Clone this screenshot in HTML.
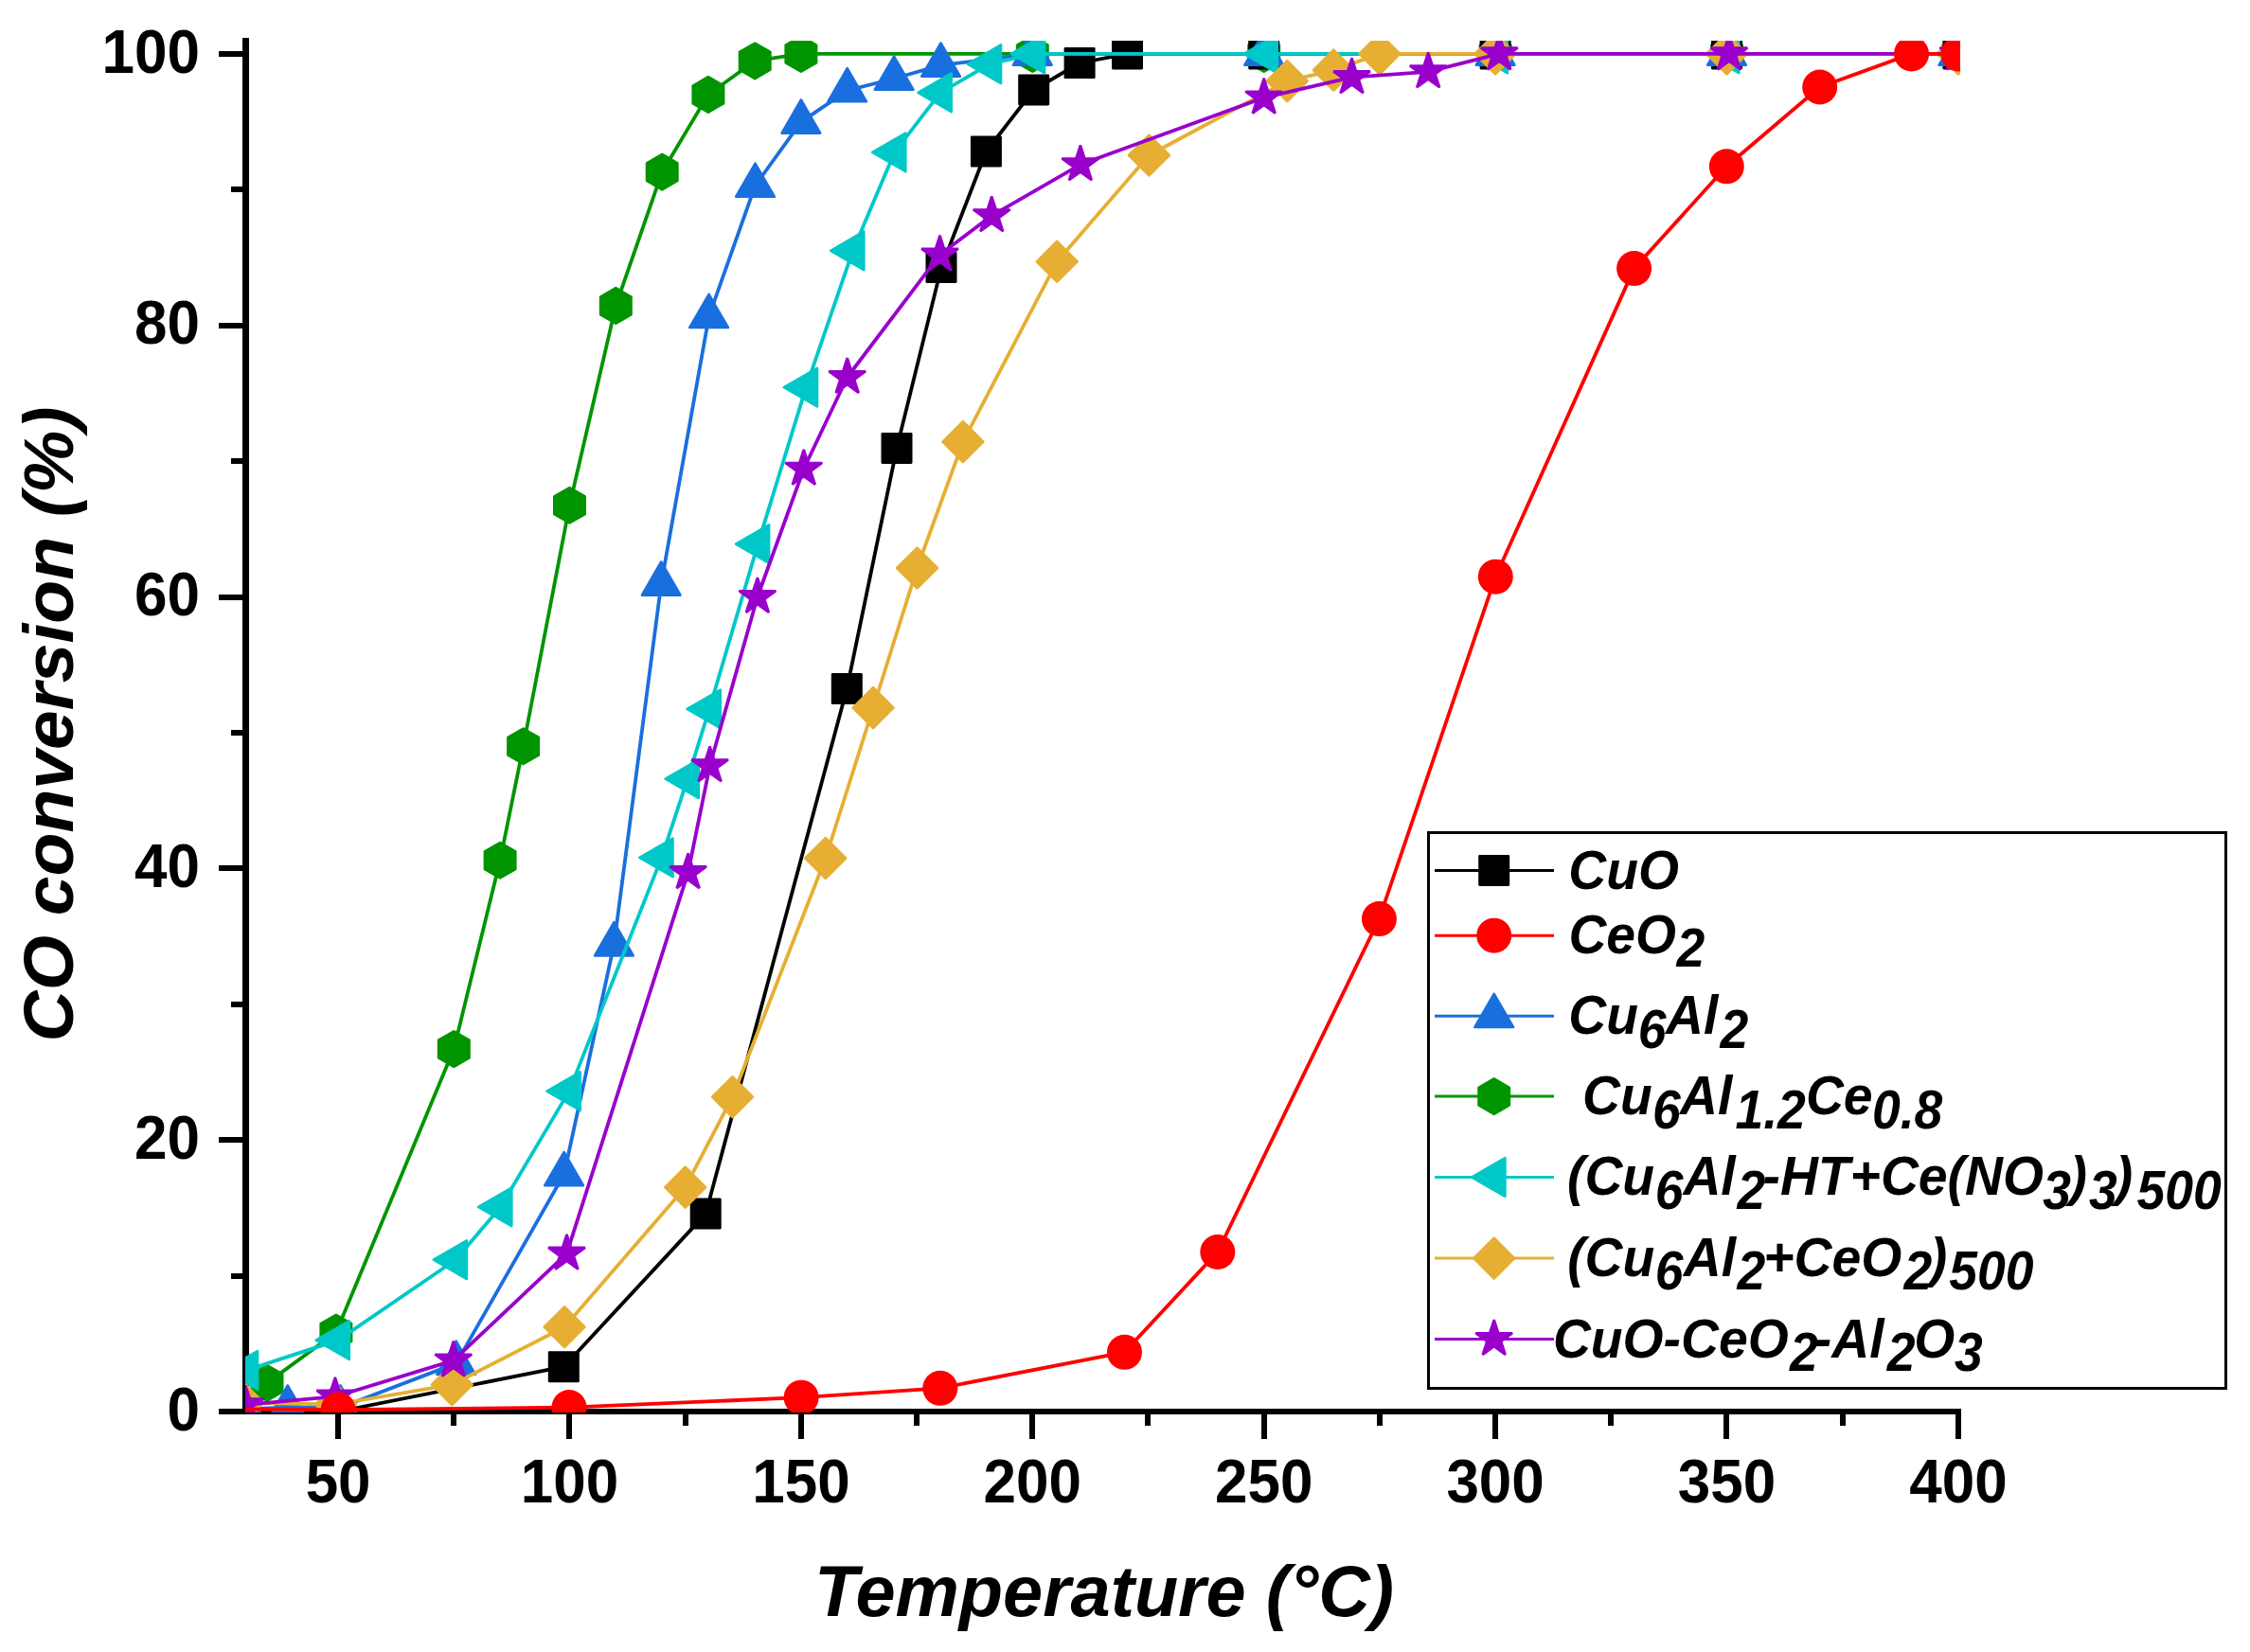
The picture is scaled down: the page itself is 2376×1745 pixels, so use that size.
<!DOCTYPE html><html><head><meta charset="utf-8"><title>CO conversion</title><style>html,body{margin:0;padding:0;background:#fff}svg{display:block}text{font-family:"Liberation Sans",Arial,Helvetica,sans-serif;font-weight:bold;fill:#000}.i{font-style:italic}</style></head><body>
<svg width="2376" height="1745" viewBox="0 0 2376 1745">
<rect width="2376" height="1745" fill="#fff"/>
<g fill="#000" shape-rendering="crispEdges">
<rect x="256" y="40" width="7" height="1454"/>
<rect x="231" y="1488" width="1840" height="6"/>
<rect x="244" y="1345" width="13" height="6"/>
<rect x="231" y="1201" width="26" height="6"/>
<rect x="244" y="1058" width="13" height="6"/>
<rect x="231" y="914" width="26" height="6"/>
<rect x="244" y="771" width="13" height="6"/>
<rect x="231" y="628" width="26" height="6"/>
<rect x="244" y="484" width="13" height="6"/>
<rect x="231" y="341" width="26" height="6"/>
<rect x="244" y="197" width="13" height="6"/>
<rect x="231" y="54" width="26" height="6"/>
<rect x="354" y="1493" width="6" height="27"/>
<rect x="476" y="1493" width="6" height="13"/>
<rect x="598" y="1493" width="6" height="27"/>
<rect x="721" y="1493" width="6" height="13"/>
<rect x="843" y="1493" width="6" height="27"/>
<rect x="965" y="1493" width="6" height="13"/>
<rect x="1087" y="1493" width="6" height="27"/>
<rect x="1209" y="1493" width="6" height="13"/>
<rect x="1332" y="1493" width="6" height="27"/>
<rect x="1454" y="1493" width="6" height="13"/>
<rect x="1576" y="1493" width="6" height="27"/>
<rect x="1698" y="1493" width="6" height="13"/>
<rect x="1820" y="1493" width="6" height="27"/>
<rect x="1943" y="1493" width="6" height="13"/>
<rect x="2065" y="1493" width="6" height="27"/>
</g>
<text font-size="62" text-anchor="end" transform="translate(211.0,1510.6) scale(1,1.04)">0</text>
<text font-size="62" text-anchor="end" transform="translate(211.0,1223.8) scale(1,1.04)">20</text>
<text font-size="62" text-anchor="end" transform="translate(211.0,937.0) scale(1,1.04)">40</text>
<text font-size="62" text-anchor="end" transform="translate(211.0,650.1) scale(1,1.04)">60</text>
<text font-size="62" text-anchor="end" transform="translate(211.0,363.3) scale(1,1.04)">80</text>
<text font-size="62" text-anchor="end" transform="translate(211.0,76.5) scale(1,1.04)">100</text>
<text font-size="62" text-anchor="middle" transform="translate(357.1,1587.0) scale(1,1.035)">50</text>
<text font-size="62" text-anchor="middle" transform="translate(601.5,1587.0) scale(1,1.035)">100</text>
<text font-size="62" text-anchor="middle" transform="translate(845.9,1587.0) scale(1,1.035)">150</text>
<text font-size="62" text-anchor="middle" transform="translate(1090.3,1587.0) scale(1,1.035)">200</text>
<text font-size="62" text-anchor="middle" transform="translate(1334.7,1587.0) scale(1,1.035)">250</text>
<text font-size="62" text-anchor="middle" transform="translate(1579.1,1587.0) scale(1,1.035)">300</text>
<text font-size="62" text-anchor="middle" transform="translate(1823.5,1587.0) scale(1,1.035)">350</text>
<text font-size="62" text-anchor="middle" transform="translate(2067.9,1587.0) scale(1,1.035)">400</text>
<text class="i" font-size="75.7" text-anchor="middle" transform="translate(1166.0,1707.0) scale(1,1.0)">Temperature (°C)</text>
<text class="i" font-size="75" text-anchor="middle" transform="translate(76.7,765.0) rotate(-90) scale(1,1.0)">CO conversion (%)</text>
<defs><clipPath id="c"><rect x="259" y="43" width="1811" height="1449"/></clipPath></defs>
<g clip-path="url(#c)">
<polyline points="282.0,1460.9 354.9,1407.5 479.3,1108.1 528.1,908.8 552.6,788.3 601.5,533.7 650.3,322.9 699.2,181.7 747.9,99.9 797.2,64.4 845.9,56.9 1090.3,56.9 1334.7,56.9 1579.1,56.9 1823.5,56.9 2067.9,56.9" fill="none" stroke="#009500" stroke-width="3.8" stroke-linejoin="round"/>
<polygon points="282.0,1442.2 298.2,1451.5 298.2,1470.2 282.0,1479.6 265.8,1470.2 265.8,1451.5" fill="#009500" stroke="#009500" stroke-width="2.6" stroke-linejoin="round"/>
<polygon points="354.9,1388.8 371.1,1398.2 371.1,1416.9 354.9,1426.2 338.7,1416.9 338.7,1398.2" fill="#009500" stroke="#009500" stroke-width="2.6" stroke-linejoin="round"/>
<polygon points="479.3,1089.4 495.5,1098.7 495.5,1117.4 479.3,1126.8 463.1,1117.4 463.1,1098.7" fill="#009500" stroke="#009500" stroke-width="2.6" stroke-linejoin="round"/>
<polygon points="528.1,890.1 544.3,899.4 544.3,918.1 528.1,927.5 511.9,918.1 511.9,899.4" fill="#009500" stroke="#009500" stroke-width="2.6" stroke-linejoin="round"/>
<polygon points="552.6,769.6 568.8,778.9 568.8,797.6 552.6,807.0 536.4,797.6 536.4,778.9" fill="#009500" stroke="#009500" stroke-width="2.6" stroke-linejoin="round"/>
<polygon points="601.5,515.0 617.7,524.4 617.7,543.1 601.5,552.4 585.3,543.1 585.3,524.4" fill="#009500" stroke="#009500" stroke-width="2.6" stroke-linejoin="round"/>
<polygon points="650.3,304.2 666.5,313.6 666.5,332.3 650.3,341.6 634.1,332.3 634.1,313.6" fill="#009500" stroke="#009500" stroke-width="2.6" stroke-linejoin="round"/>
<polygon points="699.2,163.0 715.4,172.3 715.4,191.0 699.2,200.4 683.0,191.0 683.0,172.3" fill="#009500" stroke="#009500" stroke-width="2.6" stroke-linejoin="round"/>
<polygon points="747.9,81.2 764.1,90.6 764.1,109.3 747.9,118.6 731.7,109.3 731.7,90.6" fill="#009500" stroke="#009500" stroke-width="2.6" stroke-linejoin="round"/>
<polygon points="797.2,45.7 813.4,55.0 813.4,73.7 797.2,83.1 781.0,73.7 781.0,55.0" fill="#009500" stroke="#009500" stroke-width="2.6" stroke-linejoin="round"/>
<polygon points="845.9,38.2 862.1,47.6 862.1,66.3 845.9,75.6 829.7,66.3 829.7,47.6" fill="#009500" stroke="#009500" stroke-width="2.6" stroke-linejoin="round"/>
<polygon points="1090.3,38.2 1106.5,47.6 1106.5,66.3 1090.3,75.6 1074.1,66.3 1074.1,47.6" fill="#009500" stroke="#009500" stroke-width="2.6" stroke-linejoin="round"/>
<polygon points="1334.7,38.2 1350.9,47.6 1350.9,66.3 1334.7,75.6 1318.5,66.3 1318.5,47.6" fill="#009500" stroke="#009500" stroke-width="2.6" stroke-linejoin="round"/>
<polygon points="1579.1,38.2 1595.3,47.6 1595.3,66.3 1579.1,75.6 1562.9,66.3 1562.9,47.6" fill="#009500" stroke="#009500" stroke-width="2.6" stroke-linejoin="round"/>
<polygon points="1823.5,38.2 1839.7,47.6 1839.7,66.3 1823.5,75.6 1807.3,66.3 1807.3,47.6" fill="#009500" stroke="#009500" stroke-width="2.6" stroke-linejoin="round"/>
<polygon points="2067.9,38.2 2084.1,47.6 2084.1,66.3 2067.9,75.6 2051.7,66.3 2051.7,47.6" fill="#009500" stroke="#009500" stroke-width="2.6" stroke-linejoin="round"/>
<polyline points="357.1,1491.0 595.3,1443.7 745.2,1282.1 894.3,727.6 947.0,473.4 994.0,282.6 1041.4,160.0 1091.7,94.9 1140.1,66.5 1190.5,56.9 1334.7,56.9 1579.1,56.9 1823.5,56.9 2067.9,56.9" fill="none" stroke="#000000" stroke-width="3.8" stroke-linejoin="round"/>
<rect x="580.1" y="1428.5" width="30.4" height="30.4" fill="#000000" stroke="#000000" stroke-width="2.6" stroke-linejoin="round"/>
<rect x="730.0" y="1266.9" width="30.4" height="30.4" fill="#000000" stroke="#000000" stroke-width="2.6" stroke-linejoin="round"/>
<rect x="879.1" y="712.4" width="30.4" height="30.4" fill="#000000" stroke="#000000" stroke-width="2.6" stroke-linejoin="round"/>
<rect x="931.8" y="458.2" width="30.4" height="30.4" fill="#000000" stroke="#000000" stroke-width="2.6" stroke-linejoin="round"/>
<rect x="978.8" y="267.4" width="30.4" height="30.4" fill="#000000" stroke="#000000" stroke-width="2.6" stroke-linejoin="round"/>
<rect x="1026.2" y="144.8" width="30.4" height="30.4" fill="#000000" stroke="#000000" stroke-width="2.6" stroke-linejoin="round"/>
<rect x="1076.5" y="79.7" width="30.4" height="30.4" fill="#000000" stroke="#000000" stroke-width="2.6" stroke-linejoin="round"/>
<rect x="1124.9" y="51.3" width="30.4" height="30.4" fill="#000000" stroke="#000000" stroke-width="2.6" stroke-linejoin="round"/>
<rect x="1175.3" y="41.7" width="30.4" height="30.4" fill="#000000" stroke="#000000" stroke-width="2.6" stroke-linejoin="round"/>
<rect x="1319.5" y="41.7" width="30.4" height="30.4" fill="#000000" stroke="#000000" stroke-width="2.6" stroke-linejoin="round"/>
<rect x="1563.9" y="41.7" width="30.4" height="30.4" fill="#000000" stroke="#000000" stroke-width="2.6" stroke-linejoin="round"/>
<rect x="1808.3" y="41.7" width="30.4" height="30.4" fill="#000000" stroke="#000000" stroke-width="2.6" stroke-linejoin="round"/>
<rect x="2052.7" y="41.7" width="30.4" height="30.4" fill="#000000" stroke="#000000" stroke-width="2.6" stroke-linejoin="round"/>
<polyline points="259.3,1488.1 303.8,1487.0 359.5,1486.7 481.7,1440.1 595.6,1240.5 648.4,997.7 698.2,616.9 748.6,334.3 797.5,196.0 845.9,128.9 894.7,95.6 944.1,83.0 993.5,68.9 1090.3,56.9 1334.7,56.9 1579.1,56.9 1823.5,56.9 2067.9,56.9" fill="none" stroke="#1A6FDF" stroke-width="3.8" stroke-linejoin="round"/>
<polygon points="259.3,1464.7 239.0,1499.9 279.6,1499.9" fill="#1A6FDF" stroke="#1A6FDF" stroke-width="2.6" stroke-linejoin="round"/>
<polygon points="303.8,1463.5 283.5,1498.7 324.1,1498.7" fill="#1A6FDF" stroke="#1A6FDF" stroke-width="2.6" stroke-linejoin="round"/>
<polygon points="359.5,1463.3 339.2,1498.4 379.8,1498.4" fill="#1A6FDF" stroke="#1A6FDF" stroke-width="2.6" stroke-linejoin="round"/>
<polygon points="481.7,1416.6 461.4,1451.8 502.0,1451.8" fill="#1A6FDF" stroke="#1A6FDF" stroke-width="2.6" stroke-linejoin="round"/>
<polygon points="595.6,1217.0 575.3,1252.2 615.9,1252.2" fill="#1A6FDF" stroke="#1A6FDF" stroke-width="2.6" stroke-linejoin="round"/>
<polygon points="648.4,974.2 628.1,1009.4 668.7,1009.4" fill="#1A6FDF" stroke="#1A6FDF" stroke-width="2.6" stroke-linejoin="round"/>
<polygon points="698.2,593.5 677.9,628.6 718.5,628.6" fill="#1A6FDF" stroke="#1A6FDF" stroke-width="2.6" stroke-linejoin="round"/>
<polygon points="748.6,310.8 728.3,346.0 768.9,346.0" fill="#1A6FDF" stroke="#1A6FDF" stroke-width="2.6" stroke-linejoin="round"/>
<polygon points="797.5,172.6 777.2,207.7 817.8,207.7" fill="#1A6FDF" stroke="#1A6FDF" stroke-width="2.6" stroke-linejoin="round"/>
<polygon points="845.9,105.5 825.6,140.6 866.2,140.6" fill="#1A6FDF" stroke="#1A6FDF" stroke-width="2.6" stroke-linejoin="round"/>
<polygon points="894.7,72.2 874.4,107.3 915.0,107.3" fill="#1A6FDF" stroke="#1A6FDF" stroke-width="2.6" stroke-linejoin="round"/>
<polygon points="944.1,59.6 923.8,94.7 964.4,94.7" fill="#1A6FDF" stroke="#1A6FDF" stroke-width="2.6" stroke-linejoin="round"/>
<polygon points="993.5,45.5 973.2,80.7 1013.8,80.7" fill="#1A6FDF" stroke="#1A6FDF" stroke-width="2.6" stroke-linejoin="round"/>
<polygon points="1090.3,33.5 1070.0,68.6 1110.6,68.6" fill="#1A6FDF" stroke="#1A6FDF" stroke-width="2.6" stroke-linejoin="round"/>
<polygon points="1334.7,33.5 1314.4,68.6 1355.0,68.6" fill="#1A6FDF" stroke="#1A6FDF" stroke-width="2.6" stroke-linejoin="round"/>
<polygon points="1579.1,33.5 1558.8,68.6 1599.4,68.6" fill="#1A6FDF" stroke="#1A6FDF" stroke-width="2.6" stroke-linejoin="round"/>
<polygon points="1823.5,33.5 1803.2,68.6 1843.8,68.6" fill="#1A6FDF" stroke="#1A6FDF" stroke-width="2.6" stroke-linejoin="round"/>
<polygon points="2067.9,33.5 2047.6,68.6 2088.2,68.6" fill="#1A6FDF" stroke="#1A6FDF" stroke-width="2.6" stroke-linejoin="round"/>
<polyline points="260.3,1447.4 357.1,1415.6 481.2,1330.7 528.6,1274.9 601.0,1152.6 698.7,905.9 726.1,822.7 749.1,748.9 800.4,574.6 851.2,409.1 900.6,264.8 944.6,160.9 993.0,97.8 1045.3,67.7 1091.2,56.9 1337.1,56.9 1580.0,56.9 1824.4,56.9 2067.9,56.9" fill="none" stroke="#00C8C8" stroke-width="3.8" stroke-linejoin="round"/>
<polygon points="236.8,1447.4 272.0,1427.1 272.0,1467.7" fill="#00C8C8" stroke="#00C8C8" stroke-width="2.6" stroke-linejoin="round"/>
<polygon points="333.6,1415.6 368.8,1395.3 368.8,1435.9" fill="#00C8C8" stroke="#00C8C8" stroke-width="2.6" stroke-linejoin="round"/>
<polygon points="457.8,1330.7 492.9,1310.4 492.9,1351.0" fill="#00C8C8" stroke="#00C8C8" stroke-width="2.6" stroke-linejoin="round"/>
<polygon points="505.2,1274.9 540.3,1254.6 540.3,1295.2" fill="#00C8C8" stroke="#00C8C8" stroke-width="2.6" stroke-linejoin="round"/>
<polygon points="577.5,1152.6 612.7,1132.3 612.7,1172.9" fill="#00C8C8" stroke="#00C8C8" stroke-width="2.6" stroke-linejoin="round"/>
<polygon points="675.3,905.9 710.5,885.6 710.5,926.2" fill="#00C8C8" stroke="#00C8C8" stroke-width="2.6" stroke-linejoin="round"/>
<polygon points="702.7,822.7 737.8,802.4 737.8,843.0" fill="#00C8C8" stroke="#00C8C8" stroke-width="2.6" stroke-linejoin="round"/>
<polygon points="725.6,748.9 760.8,728.6 760.8,769.2" fill="#00C8C8" stroke="#00C8C8" stroke-width="2.6" stroke-linejoin="round"/>
<polygon points="777.0,574.6 812.1,554.3 812.1,594.9" fill="#00C8C8" stroke="#00C8C8" stroke-width="2.6" stroke-linejoin="round"/>
<polygon points="827.8,409.1 863.0,388.8 863.0,429.4" fill="#00C8C8" stroke="#00C8C8" stroke-width="2.6" stroke-linejoin="round"/>
<polygon points="877.2,264.8 912.3,244.5 912.3,285.1" fill="#00C8C8" stroke="#00C8C8" stroke-width="2.6" stroke-linejoin="round"/>
<polygon points="921.2,160.9 956.3,140.6 956.3,181.2" fill="#00C8C8" stroke="#00C8C8" stroke-width="2.6" stroke-linejoin="round"/>
<polygon points="969.5,97.8 1004.7,77.5 1004.7,118.1" fill="#00C8C8" stroke="#00C8C8" stroke-width="2.6" stroke-linejoin="round"/>
<polygon points="1021.9,67.7 1057.0,47.4 1057.0,88.0" fill="#00C8C8" stroke="#00C8C8" stroke-width="2.6" stroke-linejoin="round"/>
<polygon points="1067.8,56.9 1103.0,36.6 1103.0,77.2" fill="#00C8C8" stroke="#00C8C8" stroke-width="2.6" stroke-linejoin="round"/>
<polygon points="1313.7,56.9 1348.8,36.6 1348.8,77.2" fill="#00C8C8" stroke="#00C8C8" stroke-width="2.6" stroke-linejoin="round"/>
<polygon points="1556.6,56.9 1591.8,36.6 1591.8,77.2" fill="#00C8C8" stroke="#00C8C8" stroke-width="2.6" stroke-linejoin="round"/>
<polygon points="1801.0,56.9 1836.2,36.6 1836.2,77.2" fill="#00C8C8" stroke="#00C8C8" stroke-width="2.6" stroke-linejoin="round"/>
<polygon points="2044.4,56.9 2079.6,36.6 2079.6,77.2" fill="#00C8C8" stroke="#00C8C8" stroke-width="2.6" stroke-linejoin="round"/>
<polyline points="256.9,1481.7 354.6,1483.5 477.3,1462.7 596.1,1401.7 723.7,1254.1 773.5,1158.7 871.8,906.5 922.1,747.6 968.5,600.0 1016.9,466.6 1116.2,276.3 1213.4,164.0 1359.3,85.6 1408.3,74.1 1456.9,56.9 1579.1,56.9 1823.5,56.9 2067.9,56.9" fill="none" stroke="#E6AF33" stroke-width="3.8" stroke-linejoin="round"/>
<polygon points="256.9,1460.3 278.3,1481.7 256.9,1503.1 235.5,1481.7" fill="#E6AF33" stroke="#E6AF33" stroke-width="2.6" stroke-linejoin="round"/>
<polygon points="354.6,1462.1 376.0,1483.5 354.6,1504.9 333.2,1483.5" fill="#E6AF33" stroke="#E6AF33" stroke-width="2.6" stroke-linejoin="round"/>
<polygon points="477.3,1441.3 498.7,1462.7 477.3,1484.1 455.9,1462.7" fill="#E6AF33" stroke="#E6AF33" stroke-width="2.6" stroke-linejoin="round"/>
<polygon points="596.1,1380.3 617.5,1401.7 596.1,1423.1 574.7,1401.7" fill="#E6AF33" stroke="#E6AF33" stroke-width="2.6" stroke-linejoin="round"/>
<polygon points="723.7,1232.7 745.1,1254.1 723.7,1275.5 702.3,1254.1" fill="#E6AF33" stroke="#E6AF33" stroke-width="2.6" stroke-linejoin="round"/>
<polygon points="773.5,1137.3 794.9,1158.7 773.5,1180.1 752.1,1158.7" fill="#E6AF33" stroke="#E6AF33" stroke-width="2.6" stroke-linejoin="round"/>
<polygon points="871.8,885.1 893.2,906.5 871.8,927.9 850.4,906.5" fill="#E6AF33" stroke="#E6AF33" stroke-width="2.6" stroke-linejoin="round"/>
<polygon points="922.1,726.2 943.5,747.6 922.1,769.0 900.7,747.6" fill="#E6AF33" stroke="#E6AF33" stroke-width="2.6" stroke-linejoin="round"/>
<polygon points="968.5,578.6 989.9,600.0 968.5,621.4 947.1,600.0" fill="#E6AF33" stroke="#E6AF33" stroke-width="2.6" stroke-linejoin="round"/>
<polygon points="1016.9,445.2 1038.3,466.6 1016.9,488.0 995.5,466.6" fill="#E6AF33" stroke="#E6AF33" stroke-width="2.6" stroke-linejoin="round"/>
<polygon points="1116.2,254.9 1137.6,276.3 1116.2,297.7 1094.8,276.3" fill="#E6AF33" stroke="#E6AF33" stroke-width="2.6" stroke-linejoin="round"/>
<polygon points="1213.4,142.6 1234.8,164.0 1213.4,185.4 1192.0,164.0" fill="#E6AF33" stroke="#E6AF33" stroke-width="2.6" stroke-linejoin="round"/>
<polygon points="1359.3,64.2 1380.7,85.6 1359.3,107.0 1337.9,85.6" fill="#E6AF33" stroke="#E6AF33" stroke-width="2.6" stroke-linejoin="round"/>
<polygon points="1408.3,52.7 1429.7,74.1 1408.3,95.5 1386.9,74.1" fill="#E6AF33" stroke="#E6AF33" stroke-width="2.6" stroke-linejoin="round"/>
<polygon points="1456.9,35.5 1478.3,56.9 1456.9,78.3 1435.5,56.9" fill="#E6AF33" stroke="#E6AF33" stroke-width="2.6" stroke-linejoin="round"/>
<polygon points="1579.1,35.5 1600.5,56.9 1579.1,78.3 1557.7,56.9" fill="#E6AF33" stroke="#E6AF33" stroke-width="2.6" stroke-linejoin="round"/>
<polygon points="1823.5,35.5 1844.9,56.9 1823.5,78.3 1802.1,56.9" fill="#E6AF33" stroke="#E6AF33" stroke-width="2.6" stroke-linejoin="round"/>
<polygon points="2067.9,35.5 2089.3,56.9 2067.9,78.3 2046.5,56.9" fill="#E6AF33" stroke="#E6AF33" stroke-width="2.6" stroke-linejoin="round"/>
<polyline points="259.3,1483.8 353.9,1475.2 478.8,1437.1 598.5,1324.2 726.6,921.7 749.6,808.8 799.9,630.5 848.8,495.3 894.7,398.5 992.5,269.1 1047.2,227.8 1140.9,173.8 1334.7,103.1 1427.5,81.7 1508.2,75.8 1583.2,56.9 1825.9,56.9 2067.9,56.9" fill="none" stroke="#9900CC" stroke-width="3.8" stroke-linejoin="round"/>
<polygon points="259.3,1463.4 263.9,1477.5 278.7,1477.5 266.7,1486.2 271.3,1500.3 259.3,1491.6 247.3,1500.3 251.9,1486.2 239.9,1477.5 254.7,1477.5" fill="#9900CC" stroke="#9900CC" stroke-width="2.6" stroke-linejoin="miter" stroke-miterlimit="3"/>
<polygon points="353.9,1454.8 358.5,1468.9 373.3,1468.9 361.3,1477.6 365.9,1491.7 353.9,1483.0 341.9,1491.7 346.5,1477.6 334.5,1468.9 349.3,1468.9" fill="#9900CC" stroke="#9900CC" stroke-width="2.6" stroke-linejoin="miter" stroke-miterlimit="3"/>
<polygon points="478.8,1416.7 483.4,1430.8 498.2,1430.8 486.2,1439.5 490.8,1453.6 478.8,1444.9 466.8,1453.6 471.4,1439.5 459.4,1430.8 474.2,1430.8" fill="#9900CC" stroke="#9900CC" stroke-width="2.6" stroke-linejoin="miter" stroke-miterlimit="3"/>
<polygon points="598.5,1303.8 603.1,1317.9 617.9,1317.9 605.9,1326.6 610.5,1340.7 598.5,1332.0 586.5,1340.7 591.1,1326.6 579.1,1317.9 593.9,1317.9" fill="#9900CC" stroke="#9900CC" stroke-width="2.6" stroke-linejoin="miter" stroke-miterlimit="3"/>
<polygon points="726.6,901.3 731.2,915.4 746.0,915.4 734.0,924.1 738.6,938.2 726.6,929.5 714.6,938.2 719.2,924.1 707.2,915.4 722.0,915.4" fill="#9900CC" stroke="#9900CC" stroke-width="2.6" stroke-linejoin="miter" stroke-miterlimit="3"/>
<polygon points="749.6,788.4 754.1,802.5 769.0,802.5 757.0,811.2 761.6,825.3 749.6,816.6 737.6,825.3 742.2,811.2 730.2,802.5 745.0,802.5" fill="#9900CC" stroke="#9900CC" stroke-width="2.6" stroke-linejoin="miter" stroke-miterlimit="3"/>
<polygon points="799.9,610.1 804.5,624.2 819.3,624.2 807.3,632.9 811.9,647.0 799.9,638.3 787.9,647.0 792.5,632.9 780.5,624.2 795.3,624.2" fill="#9900CC" stroke="#9900CC" stroke-width="2.6" stroke-linejoin="miter" stroke-miterlimit="3"/>
<polygon points="848.8,474.9 853.4,489.0 868.2,489.0 856.2,497.7 860.8,511.8 848.8,503.1 836.8,511.8 841.4,497.7 829.4,489.0 844.2,489.0" fill="#9900CC" stroke="#9900CC" stroke-width="2.6" stroke-linejoin="miter" stroke-miterlimit="3"/>
<polygon points="894.7,378.1 899.3,392.2 914.1,392.2 902.2,400.9 906.7,415.0 894.7,406.3 882.7,415.0 887.3,400.9 875.3,392.2 890.2,392.2" fill="#9900CC" stroke="#9900CC" stroke-width="2.6" stroke-linejoin="miter" stroke-miterlimit="3"/>
<polygon points="992.5,248.7 997.1,262.8 1011.9,262.8 999.9,271.6 1004.5,285.7 992.5,276.9 980.5,285.7 985.1,271.6 973.1,262.8 987.9,262.8" fill="#9900CC" stroke="#9900CC" stroke-width="2.6" stroke-linejoin="miter" stroke-miterlimit="3"/>
<polygon points="1047.2,207.4 1051.8,221.5 1066.6,221.5 1054.7,230.3 1059.2,244.3 1047.2,235.6 1035.3,244.3 1039.8,230.3 1027.8,221.5 1042.7,221.5" fill="#9900CC" stroke="#9900CC" stroke-width="2.6" stroke-linejoin="miter" stroke-miterlimit="3"/>
<polygon points="1140.9,153.4 1145.4,167.5 1160.3,167.5 1148.3,176.2 1152.8,190.3 1140.9,181.6 1128.9,190.3 1133.4,176.2 1121.4,167.5 1136.3,167.5" fill="#9900CC" stroke="#9900CC" stroke-width="2.6" stroke-linejoin="miter" stroke-miterlimit="3"/>
<polygon points="1334.7,82.7 1339.2,96.8 1354.1,96.8 1342.1,105.5 1346.7,119.6 1334.7,110.9 1322.7,119.6 1327.2,105.5 1315.3,96.8 1330.1,96.8" fill="#9900CC" stroke="#9900CC" stroke-width="2.6" stroke-linejoin="miter" stroke-miterlimit="3"/>
<polygon points="1427.5,61.3 1432.1,75.4 1446.9,75.4 1434.9,84.1 1439.5,98.2 1427.5,89.5 1415.5,98.2 1420.1,84.1 1408.1,75.4 1423.0,75.4" fill="#9900CC" stroke="#9900CC" stroke-width="2.6" stroke-linejoin="miter" stroke-miterlimit="3"/>
<polygon points="1508.2,55.4 1512.8,69.5 1527.6,69.5 1515.6,78.2 1520.2,92.3 1508.2,83.6 1496.2,92.3 1500.8,78.2 1488.8,69.5 1503.6,69.5" fill="#9900CC" stroke="#9900CC" stroke-width="2.6" stroke-linejoin="miter" stroke-miterlimit="3"/>
<polygon points="1583.2,36.5 1587.8,50.6 1602.6,50.6 1590.6,59.3 1595.2,73.4 1583.2,64.7 1571.2,73.4 1575.8,59.3 1563.8,50.6 1578.6,50.6" fill="#9900CC" stroke="#9900CC" stroke-width="2.6" stroke-linejoin="miter" stroke-miterlimit="3"/>
<polygon points="1825.9,36.5 1830.5,50.6 1845.3,50.6 1833.3,59.3 1837.9,73.4 1825.9,64.7 1813.9,73.4 1818.5,59.3 1806.5,50.6 1821.3,50.6" fill="#9900CC" stroke="#9900CC" stroke-width="2.6" stroke-linejoin="miter" stroke-miterlimit="3"/>
<polygon points="2067.9,36.5 2072.4,50.6 2087.3,50.6 2075.3,59.3 2079.9,73.4 2067.9,64.7 2055.9,73.4 2060.4,59.3 2048.5,50.6 2063.3,50.6" fill="#9900CC" stroke="#9900CC" stroke-width="2.6" stroke-linejoin="miter" stroke-miterlimit="3"/>
<polyline points="210.4,1488.1 357.1,1489.1 601.0,1486.6 846.1,1476.2 992.8,1466.3 1187.5,1428.3 1285.8,1322.5 1456.4,970.6 1579.3,609.2 1725.6,283.6 1823.3,175.8 1921.7,92.0 2018.5,56.9 2067.9,56.9" fill="none" stroke="#FF0000" stroke-width="3.8" stroke-linejoin="round"/>
<circle cx="357.1" cy="1489.1" r="18.5" fill="#FF0000"/>
<circle cx="601.0" cy="1486.6" r="18.5" fill="#FF0000"/>
<circle cx="846.1" cy="1476.2" r="18.5" fill="#FF0000"/>
<circle cx="992.8" cy="1466.3" r="18.5" fill="#FF0000"/>
<circle cx="1187.5" cy="1428.3" r="18.5" fill="#FF0000"/>
<circle cx="1285.8" cy="1322.5" r="18.5" fill="#FF0000"/>
<circle cx="1456.4" cy="970.6" r="18.5" fill="#FF0000"/>
<circle cx="1579.3" cy="609.2" r="18.5" fill="#FF0000"/>
<circle cx="1725.6" cy="283.6" r="18.5" fill="#FF0000"/>
<circle cx="1823.3" cy="175.8" r="18.5" fill="#FF0000"/>
<circle cx="1921.7" cy="92.0" r="18.5" fill="#FF0000"/>
<circle cx="2018.5" cy="56.9" r="18.5" fill="#FF0000"/>
<circle cx="2067.9" cy="56.9" r="18.5" fill="#FF0000"/>
</g>
<rect x="1508.5" y="879.5" width="842" height="587" fill="#fff" stroke="#000" stroke-width="3" shape-rendering="crispEdges"/>
<line x1="1515" y1="919.4" x2="1641" y2="919.4" stroke="#000000" stroke-width="3"/>
<rect x="1562.5" y="904.2" width="30.4" height="30.4" fill="#000000" stroke="#000000" stroke-width="2.6" stroke-linejoin="round"/>
<line x1="1515" y1="988.2" x2="1641" y2="988.2" stroke="#FF0000" stroke-width="3"/>
<circle cx="1577.7" cy="988.2" r="18.5" fill="#FF0000"/>
<line x1="1515" y1="1073.2" x2="1641" y2="1073.2" stroke="#1A6FDF" stroke-width="3"/>
<polygon points="1577.7,1049.8 1557.4,1084.9 1598.0,1084.9" fill="#1A6FDF" stroke="#1A6FDF" stroke-width="2.6" stroke-linejoin="round"/>
<line x1="1515" y1="1158.1" x2="1641" y2="1158.1" stroke="#009500" stroke-width="3"/>
<polygon points="1577.7,1139.4 1593.9,1148.8 1593.9,1167.4 1577.7,1176.8 1561.5,1167.4 1561.5,1148.8" fill="#009500" stroke="#009500" stroke-width="2.6" stroke-linejoin="round"/>
<line x1="1515" y1="1243.5" x2="1641" y2="1243.5" stroke="#00C8C8" stroke-width="3"/>
<polygon points="1554.3,1243.5 1589.4,1223.2 1589.4,1263.8" fill="#00C8C8" stroke="#00C8C8" stroke-width="2.6" stroke-linejoin="round"/>
<line x1="1515" y1="1329.1" x2="1641" y2="1329.1" stroke="#E6AF33" stroke-width="3"/>
<polygon points="1577.7,1307.7 1599.1,1329.1 1577.7,1350.5 1556.3,1329.1" fill="#E6AF33" stroke="#E6AF33" stroke-width="2.6" stroke-linejoin="round"/>
<line x1="1515" y1="1414.5" x2="1641" y2="1414.5" stroke="#9900CC" stroke-width="3"/>
<polygon points="1577.7,1394.1 1582.3,1408.2 1597.1,1408.2 1585.1,1416.9 1589.7,1431.0 1577.7,1422.3 1565.7,1431.0 1570.3,1416.9 1558.3,1408.2 1573.1,1408.2" fill="#9900CC" stroke="#9900CC" stroke-width="2.6" stroke-linejoin="miter" stroke-miterlimit="3"/>
<text class="i" font-size="55.3" transform="translate(1656.3,938.5) scale(1,1.05)">CuO</text>
<text class="i" font-size="55.3" transform="translate(1656.4,1007.3) scale(1,1.05)">CeO</text>
<text class="i" font-size="53.5" transform="translate(1770.4,1020.6) scale(1,1.085)">2</text>
<text class="i" font-size="55.3" transform="translate(1656.3,1092.3) scale(1,1.05)">Cu</text>
<text class="i" font-size="53.5" transform="translate(1729.7,1106.8) scale(1,1.085)">6</text>
<text class="i" font-size="55.3" transform="translate(1759.0,1092.3) scale(1,1.05)">Al</text>
<text class="i" font-size="53.5" transform="translate(1816.5,1106.8) scale(1,1.085)">2</text>
<text class="i" font-size="55.3" transform="translate(1671.0,1177.1) scale(1,1.05)">Cu</text>
<text class="i" font-size="53.5" transform="translate(1745.0,1191.6) scale(1,1.085)">6</text>
<text class="i" font-size="55.3" transform="translate(1774.1,1177.1) scale(1,1.05)">Al</text>
<text class="i" font-size="53.5" transform="translate(1832.5,1191.6) scale(1,1.085)">1.2</text>
<text class="i" font-size="55.3" transform="translate(1906.9,1177.1) scale(1,1.05)">Ce</text>
<text class="i" font-size="53.5" transform="translate(1976.9,1191.6) scale(1,1.085)">0.8</text>
<text class="i" font-size="55.3" transform="translate(1655.0,1261.7) scale(1,1.05)">(Cu</text>
<text class="i" font-size="53.5" transform="translate(1747.7,1276.6) scale(1,1.085)">6</text>
<text class="i" font-size="55.3" transform="translate(1777.4,1261.7) scale(1,1.05)">Al</text>
<text class="i" font-size="53.5" transform="translate(1834.5,1276.6) scale(1,1.085)">2</text>
<text class="i" font-size="55.3" transform="translate(1861.5,1261.7) scale(1,1.05)">-HT+Ce(NO</text>
<text class="i" font-size="53.5" transform="translate(2157.2,1276.6) scale(1,1.085)">3</text>
<text class="i" font-size="55.3" transform="translate(2185.5,1261.7) scale(1,1.05)">)</text>
<text class="i" font-size="53.5" transform="translate(2206.0,1276.6) scale(1,1.085)">3</text>
<text class="i" font-size="55.3" transform="translate(2233.8,1261.7) scale(1,1.05)">)</text>
<text class="i" font-size="53.5" transform="translate(2256.6,1276.6) scale(1,1.085)">500</text>
<text class="i" font-size="55.3" transform="translate(1655.2,1348.1) scale(1,1.05)">(Cu</text>
<text class="i" font-size="53.5" transform="translate(1747.8,1361.5) scale(1,1.085)">6</text>
<text class="i" font-size="55.3" transform="translate(1777.7,1348.1) scale(1,1.05)">Al</text>
<text class="i" font-size="53.5" transform="translate(1834.6,1361.5) scale(1,1.085)">2</text>
<text class="i" font-size="55.3" transform="translate(1862.2,1348.1) scale(1,1.05)">+CeO</text>
<text class="i" font-size="53.5" transform="translate(2010.4,1361.5) scale(1,1.085)">2</text>
<text class="i" font-size="55.3" transform="translate(2037.8,1348.1) scale(1,1.05)">)</text>
<text class="i" font-size="53.5" transform="translate(2058.2,1361.5) scale(1,1.085)">500</text>
<text class="i" font-size="55.3" transform="translate(1639.9,1433.6) scale(1,1.05)">CuO-CeO</text>
<text class="i" font-size="53.5" transform="translate(1890.1,1447.5) scale(1,1.085)">2</text>
<text class="i" font-size="55.3" transform="translate(1915.8,1433.6) scale(1,1.05)">-Al</text>
<text class="i" font-size="53.5" transform="translate(1992.7,1447.5) scale(1,1.085)">2</text>
<text class="i" font-size="55.3" transform="translate(2021.3,1433.6) scale(1,1.05)">O</text>
<text class="i" font-size="53.5" transform="translate(2064.1,1447.5) scale(1,1.085)">3</text>
</svg></body></html>
